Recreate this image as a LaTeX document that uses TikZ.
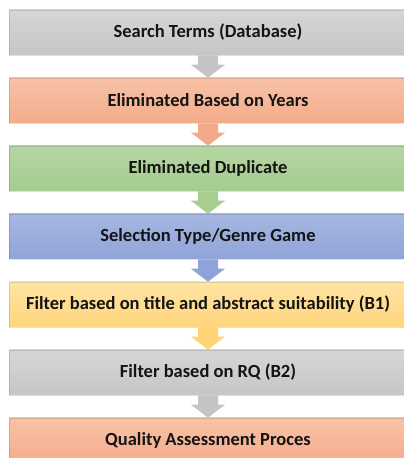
\documentclass[tikz,border=0pt]{standalone}
\usepackage{fontspec}
\setmainfont{Carlito}
\usetikzlibrary{calc}

% step fills: lighter at the top, darker at the bottom
\definecolor{grayT}{HTML}{D6D6D6}\definecolor{grayB}{HTML}{C6C6C6}\definecolor{grayA}{HTML}{C4C4C4}
\definecolor{salT}{HTML}{F8C2A6}\definecolor{salB}{HTML}{F3AC8B}\definecolor{salA}{HTML}{F4AA88}
\definecolor{grnT}{HTML}{B4D6A2}\definecolor{grnB}{HTML}{A5CC8E}\definecolor{grnA}{HTML}{A7CD8F}
\definecolor{bluT}{HTML}{A6B7E2}\definecolor{bluB}{HTML}{8FA4D8}\definecolor{bluA}{HTML}{8EA4D8}
\definecolor{ylwT}{HTML}{FFE4A3}\definecolor{ylwB}{HTML}{FFD57D}\definecolor{ylwA}{HTML}{FFD477}
\definecolor{ink}{HTML}{141414}

\tikzset{
  stepbox/.style={rectangle, minimum width=398pt, minimum height=45pt,
    inner sep=0pt, draw=black, draw opacity=0.12, line width=0.6pt,
    font=\fontsize{18.5}{22}\selectfont\bfseries, text=ink},
  graybox/.style={stepbox, top color=grayT, bottom color=grayB},
  salbox/.style={stepbox, top color=salT, bottom color=salB},
  grnbox/.style={stepbox, top color=grnT, bottom color=grnB},
  blubox/.style={stepbox, top color=bluT, bottom color=bluB},
  ylwbox/.style={stepbox, top color=ylwT, bottom color=ylwB},
}

% block arrow from the bottom of one step to the top of the next
\newcommand\flowarrow[3]{%
  \fill[#3] ($(#1.south)+(-10pt,0)$) -- ($(#1.south)+(10pt,0)$)
    -- ($(#2.north)+(10pt,13pt)$) -- ($(#2.north)+(17pt,13pt)$)
    -- (#2.north)
    -- ($(#2.north)+(-17pt,13pt)$) -- ($(#2.north)+(-10pt,13pt)$) -- cycle;}

\begin{document}
\begin{tikzpicture}[x=1pt,y=1pt]
  \useasboundingbox (0,0) rectangle (404,458);
  \clip (0,0) rectangle (404,458);
  \fill[white] (0,0) rectangle (404,458);

  \node[graybox] (s1) at (208,425.5) {Search Terms (Database)};
  \node[salbox]  (s2) at (208,357.5) {Eliminated Based on Years};
  \node[grnbox]  (s3) at (208,289.5) {Eliminated Duplicate};
  \node[blubox]  (s4) at (208,221.5) {Selection Type/Genre Game};
  \node[ylwbox]  (s5) at (208,153.5) {Filter based on title and abstract suitability (B1)};
  \node[graybox] (s6) at (208,85.5)  {Filter based on RQ (B2)};
  \node[salbox]  (s7) at (208,17.5)  {Quality Assessment Proces};

  \flowarrow{s1}{s2}{grayA}
  \flowarrow{s2}{s3}{salA}
  \flowarrow{s3}{s4}{grnA}
  \flowarrow{s4}{s5}{bluA}
  \flowarrow{s5}{s6}{ylwA}
  \flowarrow{s6}{s7}{grayA}
\end{tikzpicture}
\end{document}
